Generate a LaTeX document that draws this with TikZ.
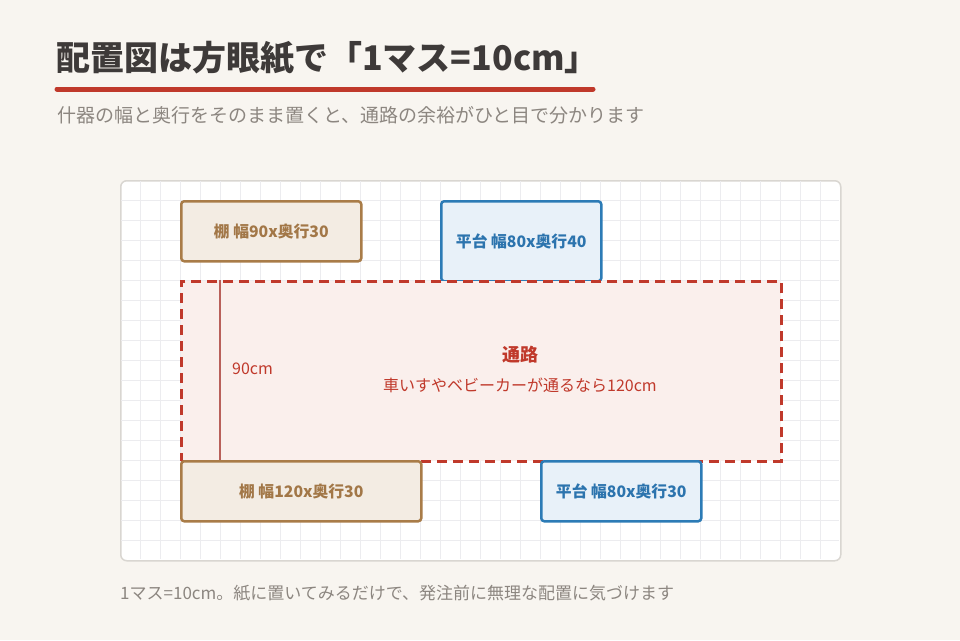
\documentclass[tikz,border=0pt]{standalone}
\usepackage{fontspec}
\setmainfont{Noto Sans CJK JP}
\definecolor{bg}{HTML}{F8F5F0}
\definecolor{ink}{HTML}{3E3A39}
\definecolor{accent}{HTML}{C0392B}
\definecolor{subgray}{HTML}{8C8680}
\definecolor{boardline}{HTML}{D9D6D1}
\definecolor{gridline}{HTML}{ECECEF}
\definecolor{shelfline}{HTML}{A97C48}
\definecolor{shelffill}{HTML}{F3ECE3}
\definecolor{shelftext}{HTML}{A27747}
\definecolor{tableline}{HTML}{2C7BB6}
\definecolor{tablefill}{HTML}{E8F1F9}
\definecolor{tabletext}{HTML}{2C74AE}
\definecolor{aislefill}{HTML}{FAEFEC}
\definecolor{dimline}{HTML}{B9605A}
\tikzset{every node/.style={inner sep=0pt},
    fixture/.style={line width=2.5pt, rounded corners=3pt, anchor=north west,
        font=\bfseries\fontsize{15.8}{18}\selectfont},
    shelfbox/.style={fixture, draw=shelfline, fill=shelffill, text=shelftext},
    tablebox/.style={fixture, draw=tableline, fill=tablefill, text=tabletext},
    aislebox/.style={draw=accent, fill=aislefill, line width=2.5pt,
        dash pattern=on 10pt off 6pt, anchor=north west},
    }

\begin{document}
\begin{tikzpicture}[x=1pt,y=-1pt]
\useasboundingbox[fill=bg] (0,0) rectangle (960,640);
% heading
\node[anchor=west, text=ink, font=\bfseries\fontsize{34}{40}\selectfont] (title) at (56,58) {配置図は方眼紙で「1マス=10cm」};
\coordinate (ulstart) at (57,89);
\coordinate (ulend) at (593,89);
\draw[accent, line width=5pt, line cap=round] (ulstart) -- (ulend);
\node[anchor=west, text=subgray, font=\fontsize{19}{23}\selectfont] (subtitle) at (57,115) {什器の幅と奥行をそのまま置くと、通路の余裕がひと目で分かります};
% board
\node[draw=boardline, fill=white, line width=1.5pt, rounded corners=6pt, anchor=north west,
    minimum width=720pt, minimum height=380pt] (board) at (120,180) {};
\foreach \x in {140,160,...,820} \draw[gridline, line width=1pt] (\x,181) -- (\x,559);
\foreach \y in {200,220,...,540} \draw[gridline, line width=1pt] (121,\y) -- (839,\y);
% fixtures, top row
\node[shelfbox, minimum width=180pt, minimum height=60pt] (shelfa) at (180,200) {棚 幅90x奥行30};
\node[tablebox, minimum width=160pt, minimum height=80pt] (tablea) at (440,200) {平台 幅80x奥行40};
% aisle
\node[aislebox, minimum width=600pt, minimum height=180pt] (aisle) at (180,280) {};
\coordinate (dimtop) at (220,280);
\coordinate (dimbot) at (220,460);
\draw[dimline, line width=1.5pt] (dimtop) -- (dimbot);
\node[anchor=west, text=accent, font=\fontsize{16}{19}\selectfont] (dimlabel) at (232,369) {90cm};
\node[text=accent, font=\bfseries\fontsize{18}{21}\selectfont] (aislename) at (520,355) {通路};
\node[text=accent, font=\fontsize{16}{19}\selectfont] (aislenote) at (520,385) {車いすやベビーカーが通るなら120cm};
% fixtures, bottom row
\node[shelfbox, minimum width=240pt, minimum height=60pt] (shelfb) at (180,460) {棚 幅120x奥行30};
\node[tablebox, minimum width=160pt, minimum height=60pt] (tableb) at (540,460) {平台 幅80x奥行30};
% footnote
\node[anchor=west, text=subgray, font=\fontsize{17}{21}\selectfont] (footnote) at (120,593) {1マス=10cm。紙に置いてみるだけで、発注前に無理な配置に気づけます};
\end{tikzpicture}
\end{document}
